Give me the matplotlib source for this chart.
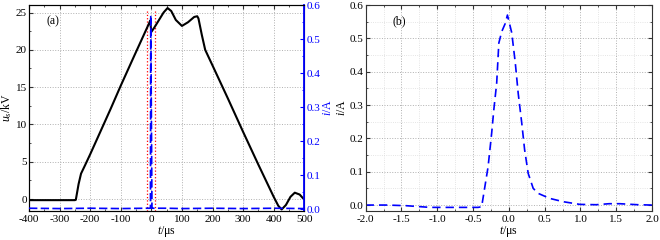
import matplotlib
matplotlib.use('Agg')
import matplotlib.pyplot as plt
from matplotlib.ticker import MultipleLocator, FormatStrFormatter

plt.rcParams['font.family'] = ['Liberation Serif', 'DejaVu Serif']
plt.rcParams['mathtext.fontset'] = 'custom'
plt.rcParams['mathtext.it'] = 'Liberation Serif:italic'
plt.rcParams['mathtext.rm'] = 'Liberation Serif'
plt.rcParams['axes.unicode_minus'] = False

# (a) voltage u_s (kV) over t (us)
t_u = [-400, -300, -250, -247, -238, -230, -216, -200, -167, -133, -100, -57,
       -8, -4, 0, 10, 25, 40, 53, 65, 80, 100, 120, 140, 150, 154, 165, 176,
       200, 250, 300, 350, 400, 415, 426, 440, 455, 469, 485, 496, 500]
u_kv = [-0.15, -0.15, -0.15, -0.1, 2.0, 3.4, 4.6, 6.0, 9.0, 12.1, 15.2, 19.1,
        23.5, 23.9, 22.4, 23.0, 24.0, 25.0, 25.6, 25.2, 24.0, 23.2, 23.7, 24.4,
        24.5, 24.2, 22.0, 20.0, 17.9, 13.5, 9.0, 4.6, 0.3, -0.9, -1.4, -0.8, 0.3,
        0.85, 0.6, 0.1, 0.0]

# (a) current i (A), right axis
t_ia = [-400, -300, -200, -100, -20, -3, -2, 2, 3, 50, 100, 200, 300, 400, 500]
i_a = [0.003, 0.002, 0.003, 0.002, 0.003, 0.003, 0.57, 0.003, 0.003, 0.003, 0.002,
       0.003, 0.002, 0.003, 0.002]

# red markers of the zoom window
win_t = [-15, 12]
win_top = 25.2

# (b) current i (A) over t (us)
t_ib = [-2.0, -1.7, -1.43, -1.1, -0.8, -0.43, -0.38, -0.35, -0.29, -0.24, -0.21,
        -0.17, -0.14, -0.10, -0.05, -0.02, 0.04, 0.09, 0.13, 0.18, 0.22, 0.27, 0.34,
        0.41, 0.57, 0.76, 0.99, 1.22, 1.4, 1.55, 1.8, 2.0]
i_b = [0.0, 0.0, -0.002, -0.007, -0.007, -0.007, -0.005, 0.035, 0.115, 0.216, 0.286,
       0.366, 0.486, 0.52, 0.545, 0.57, 0.517, 0.426, 0.336, 0.246, 0.166, 0.095, 0.05,
       0.035, 0.02, 0.01, 0.002, 0.001, 0.004, 0.004, 0.001, 0.0]

fs_tick = 8
fs_lab = 8.5

fig = plt.figure(figsize=(6.6, 2.4), dpi=100)
ax1 = fig.add_axes([0.044, 0.121, 0.417, 0.858])
ax2 = ax1.twinx()
axb = fig.add_axes([0.554, 0.122, 0.434, 0.857])

grid_major = dict(color='#b0b0b0', linestyle=':', linewidth=0.7)
grid_minor = dict(color='#dcdcdc', linestyle=':', linewidth=0.6)

# ---- panel (a)
ax1.plot(t_u, u_kv, color='black', linewidth=1.5, zorder=3)
for x in win_t:
    ax1.plot([x, x], [-1.6, win_top], color='red', linestyle=':', linewidth=0.9, zorder=2)
ax1.set_xlim(-400, 500)
ax1.set_ylim(-1.6, 26)
ax1.xaxis.set_major_locator(MultipleLocator(100))
ax1.xaxis.set_minor_locator(MultipleLocator(50))
ax1.yaxis.set_major_locator(MultipleLocator(5))
ax1.yaxis.set_minor_locator(MultipleLocator(2.5))
ax1.grid(True, which='major', **grid_major)
ax1.set_axisbelow(True)
ax1.tick_params(which='both', direction='in', top=True, right=False,
                labelsize=fs_tick, pad=1.5, color='#333333')
ax1.tick_params(axis='x', pad=3)
ax1.tick_params(which='major', length=3)
ax1.tick_params(which='minor', length=1.5)
ax1.set_xlabel(r'$t$/μs', fontsize=fs_lab, labelpad=0)
ax1.set_ylabel(r'$u_s$/kV', fontsize=fs_lab, labelpad=1)
ax1.text(0.065, 0.92, '(a)', transform=ax1.transAxes, fontsize=fs_lab, va='center')

ax2.plot(t_ia, i_a, color='blue', linestyle='--', linewidth=1.2, dashes=(5, 2), zorder=3)
ax2.set_ylim(-0.005, 0.6)
ax2.yaxis.set_major_locator(MultipleLocator(0.1))
ax2.yaxis.set_minor_locator(MultipleLocator(0.05))
ax2.yaxis.set_major_formatter(FormatStrFormatter('%.1f'))
ax2.tick_params(which='both', direction='in', colors='blue', labelsize=fs_tick, pad=1.5)
ax2.tick_params(which='major', length=3)
ax2.tick_params(which='minor', length=1.5)
ax2.spines['right'].set_color('blue')
ax2.spines['right'].set_linewidth(1.3)
ax2.set_ylabel(r'$i$/A', color='blue', fontsize=fs_lab, labelpad=1)

# ---- panel (b)
axb.plot(t_ib, i_b, color='blue', linestyle='--', linewidth=1.2, dashes=(5, 3))
axb.set_xlim(-2.0, 2.0)
axb.set_ylim(-0.017, 0.6)
axb.xaxis.set_major_locator(MultipleLocator(0.5))
axb.xaxis.set_minor_locator(MultipleLocator(0.25))
axb.yaxis.set_major_locator(MultipleLocator(0.1))
axb.yaxis.set_minor_locator(MultipleLocator(0.05))
axb.xaxis.set_major_formatter(FormatStrFormatter('%.1f'))
axb.yaxis.set_major_formatter(FormatStrFormatter('%.1f'))
axb.grid(True, which='major', **grid_major)
axb.grid(True, which='minor', **grid_minor)
axb.set_axisbelow(True)
axb.tick_params(which='both', direction='in', top=True, right=True,
                labelsize=fs_tick, pad=1.5, color='#333333')
axb.tick_params(axis='x', pad=3)
axb.tick_params(which='major', length=3)
axb.tick_params(which='minor', length=1.5)
axb.set_xlabel(r'$t$/μs', fontsize=fs_lab, labelpad=0)
axb.set_ylabel(r'$i$/A', fontsize=fs_lab, labelpad=1)
axb.text(0.095, 0.92, '(b)', transform=axb.transAxes, fontsize=fs_lab, va='center')

for ax in (ax1, axb):
    for name in ('left', 'top', 'bottom'):
        ax.spines[name].set_color('#333333')
axb.spines['right'].set_color('#333333')

fig.savefig('out.png', dpi=100)
